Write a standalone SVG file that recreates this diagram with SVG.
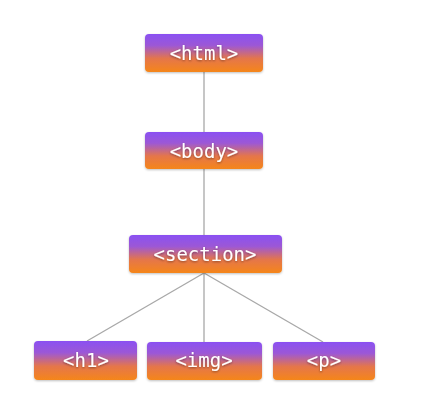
<svg xmlns="http://www.w3.org/2000/svg" width="448" height="420" viewBox="0 0 448 420">
<defs>
<linearGradient id="g" x1="0" y1="0" x2="0" y2="1">
<stop offset="0" stop-color="#8a50f2"/>
<stop offset="0.3" stop-color="#9c58d6"/>
<stop offset="0.65" stop-color="#e5764a"/>
<stop offset="1" stop-color="#f5861a"/>
</linearGradient>
<filter id="sh" x="-10%" y="-20%" width="120%" height="150%">
<feDropShadow dx="0" dy="1" stdDeviation="1" flood-color="#000" flood-opacity="0.25"/>
</filter>
<filter id="ts" x="-10%" y="-20%" width="120%" height="150%">
<feDropShadow dx="0" dy="1" stdDeviation="0.8" flood-color="#000" flood-opacity="0.4"/>
</filter>
</defs>
<style>
.box{fill:url(#g);filter:url(#sh)}
.lbl{font-family:"DejaVu Sans Mono",monospace;font-size:19px;fill:#fff;text-anchor:middle;filter:url(#ts)}
.edge{stroke:#a8a8a8;stroke-width:1.3;fill:none}
</style>
<rect width="448" height="420" fill="#fff"/>
<g id="connectors">
<line class="edge" x1="204" y1="72" x2="204" y2="132"/>
<line class="edge" x1="204" y1="169" x2="204" y2="235"/>
<line class="edge" x1="204" y1="273" x2="87" y2="341"/>
<line class="edge" x1="204" y1="273" x2="204" y2="342"/>
<line class="edge" x1="204" y1="273" x2="323" y2="342"/>
</g>
<g id="html">
<rect class="box" x="145" y="34" width="118" height="38" rx="4"/>
<text class="lbl" x="204" y="60">&lt;html&gt;</text>
</g>
<g id="body">
<rect class="box" x="145" y="132" width="118" height="37" rx="4"/>
<text class="lbl" x="204" y="158">&lt;body&gt;</text>
</g>
<g id="section">
<rect class="box" x="129" y="235" width="153" height="38" rx="4"/>
<text class="lbl" x="205" y="261">&lt;section&gt;</text>
</g>
<g id="h1">
<rect class="box" x="34" y="341" width="103" height="39" rx="4"/>
<text class="lbl" x="86" y="367">&lt;h1&gt;</text>
</g>
<g id="img">
<rect class="box" x="147" y="342" width="115" height="38" rx="4"/>
<text class="lbl" x="204" y="367">&lt;img&gt;</text>
</g>
<g id="p">
<rect class="box" x="273" y="342" width="102" height="38" rx="4"/>
<text class="lbl" x="324" y="367">&lt;p&gt;</text>
</g>
</svg>
